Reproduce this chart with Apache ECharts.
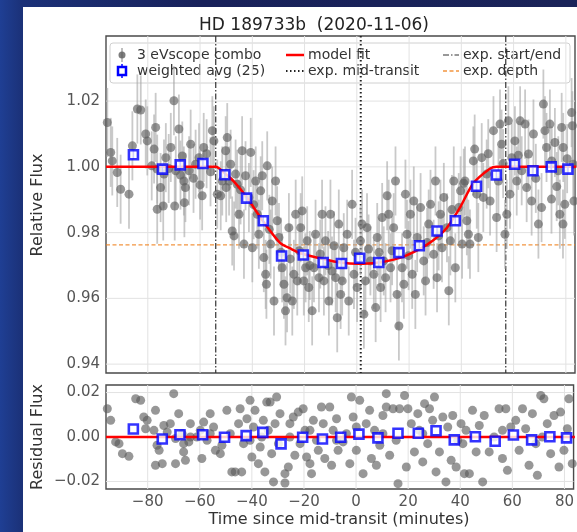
<!DOCTYPE html>
<html>
<head>
<meta charset="utf-8">
<script src="https://cdn.jsdelivr.net/npm/echarts@6.0.0/dist/echarts.min.js"></script>
<style>
    html, body { margin: 0; padding: 0; }
    body {
        width: 577px; height: 532px; overflow: hidden; position: relative;
        background: linear-gradient(90deg, #1f3f94 0px, #1b3178 22px, #18215a 200px, #1a2358 577px);
    }
    #panel { position: absolute; left: 23px; top: 7px; width: 554px; height: 525px; background: #fff; }
    #chart { position: absolute; left: 0; top: 0; width: 577px; height: 532px; }
</style>
</head>
<body>
<div id="panel"></div>
<div id="chart"></div>
<script>
    // tick labels
    var xTicks = [-80, -60, -40, -20, 0, 20, 40, 60, 80];
    var yTicksMain = [0.94, 0.96, 0.98, 1.00, 1.02];
    var yTicksRes = [-0.02, 0.00, 0.02];

    // exposure markers
    var expStartEnd = [-54, 57];
    var expMid = [1.5];
    var expDepth = [0.9763];

    // 3 eVscope combo (time in minutes, relative flux)
    var grayT = [
        -95.5, -94.2, -93.6, -91.7, -90.4, -87.2, -85.9, -84.0, -82.7, -80.8, -80.2, -77.6, -77.0, -76.4, -76.4, -75.1,
        -74.1, -73.8, -73.1, -71.2, -70.0, -69.7, -69.3, -68.1, -66.8, -66.2, -65.6, -66.0, -64.2, -63.6, -61.7, -60.4,
        -59.2, -58.6, -55.3, -54.7, -53.4, -52.1, -51.5, -78.5, -72.0, -67.5, -62.5, -57.5, -56.0, -60.0,
        -49.6, -50.2, -48.9, -50.0, -48.3, -46.4, -45.8, -47.7, -47.0, -45.1, -43.9, -43.2, -42.6, -41.3, -40.6, -40.0,
        -38.7, -38.1, -37.5, -36.8, -36.2, -35.6, -34.9, -34.3, -34.6, -33.0, -32.4, -31.7, -31.1, -30.5, -29.8, -28.6,
        -27.9, -27.3, -26.7, -26.0, -24.7, -24.1, -23.4, -22.8, -21.5, -20.9, -20.3, -19.6, -19.0, -18.4, -17.1, -16.4,
        -15.8, -14.5, -13.3, -12.6, -12.0, -10.7, -10.1, -9.5, -8.1, -7.5, -6.9, -5.6, -5.0, -6.2,
        -44.5, -39.5, -33.5, -29.0, -25.5, -22.0, -18.0, -14.0, -11.0, -8.7,
        -3.7, -3.1, -1.8, -1.1, 0.1, 1.4, 2.0, 2.7, 3.3, 3.9, 5.2, 6.5, 7.2, 7.8, 9.1, 9.7,
        10.3, 11.0, 11.6, 12.2, 12.9, 14.1, 14.8, 15.4, 16.1, 17.3, 18.0, 18.6, 19.2, 20.5, 21.2, 21.8,
        22.4, 23.1, 24.4, 25.6, 26.3, 27.5, 28.2, 29.4, 30.1, 30.7, 32.0, 32.6, 33.3, 34.5, 35.2, 35.8,
        37.1, 37.7, 39.0, 39.7, 40.3, 40.9, -0.5, 4.5, 8.5, 13.5, 19.8, 26.9, 31.3, 36.4,
        41.4, 42.1, 42.7, 43.3, 44.6, 45.1, 45.9, 46.5, 47.8, 48.4, 49.7, 51.0, 52.3, 53.5, 54.2, 54.8,
        55.4, 56.7, 57.4, 58.0, 58.6, 59.3, 60.5, 61.2, 62.5, 63.1, 64.4, 65.0, 65.7, 66.9, 67.6, 69.5,
        70.7, 71.4, 72.0, 72.6, 73.9, 74.5, 74.6, 75.8, 77.1, 77.7, 78.4, 78.9, 79.0, 79.6, 82.2, 82.5,
        82.8, 83.1, 50.3, 56.0, 61.8, 68.5, 76.5, 80.5
    ];
    var grayF = [
        1.0135, 1.0044, 1.0018, 0.9983, 0.9932, 0.9917, 1.0064, 1.0176, 1.0173, 1.0100, 1.0079, 1.0054, 1.0120, 0.9993, 0.9871, 0.9937,
        0.9881, 0.9978, 1.0028, 1.0059, 1.0201, 0.9881, 0.9988, 1.0115, 1.0033, 0.9957, 0.9937, 0.9891, 0.9988, 1.0069, 1.0008, 1.0028,
        0.9912, 1.0059, 1.0110, 1.0079, 0.9917, 0.9912, 0.9957, 1.0003, 0.9995, 0.9975, 0.9965, 1.0040, 0.9985, 0.9945,
        1.0089, 1.0049, 0.9957, 0.9937, 1.0008, 0.9978, 0.9947, 0.9805, 0.9790, 0.9856, 1.0049, 0.9765, 0.9973, 0.9907, 1.0044, 0.9754,
        0.9957, 0.9856, 0.9795, 0.9927, 0.9973, 0.9724, 0.9673, 1.0003, 0.9643, 0.9765, 0.9896, 0.9592, 0.9957, 0.9836, 0.9785, 0.9693,
        0.9643, 0.9562, 0.9602, 0.9815, 0.9592, 0.9673, 0.9856, 0.9653, 0.9815, 0.9866, 0.9653, 0.9693, 0.9775, 0.9633, 0.9562, 0.9693,
        0.9795, 0.9663, 0.9856, 0.9653, 0.9775, 0.9592, 0.9856, 0.9683, 0.9663, 0.9541, 0.9826, 0.9653, 0.9754, 0.9612,
        0.9930, 0.9885, 0.9810, 0.9740, 0.9720, 0.9745, 0.9700, 0.9735, 0.9700, 0.9760,
        0.9795, 0.9592, 0.9886, 0.9673, 0.9633, 0.9775, 0.9826, 0.9552, 0.9653, 0.9815, 0.9714, 0.9673, 0.9572, 0.9785, 0.9633, 0.9846,
        0.9714, 0.9663, 0.9912, 0.9856, 0.9693, 0.9815, 0.9957, 0.9612, 0.9516, 0.9693, 0.9643, 0.9917, 0.9795, 0.9856, 0.9673, 0.9896,
        0.9612, 0.9785, 0.9876, 0.9714, 0.9653, 0.9826, 0.9886, 0.9734, 0.9957, 0.9663, 0.9856, 0.9754, 0.9907, 0.9815, 0.9623, 0.9775,
        0.9957, 0.9693, 0.9876, 0.9927, 0.9765, 0.9950, 0.9740, 0.9750, 0.9740, 0.9745, 0.9730, 0.9770, 0.9790, 0.9870,
        0.9957, 0.9836, 0.9795, 0.9765, 1.0018, 1.0054, 0.9917, 0.9785, 1.0028, 0.9907, 0.9978, 0.9896, 1.0110, 0.9846, 0.9957, 1.0130,
        1.0069, 0.9795, 0.9856, 1.0140, 0.9917, 1.0028, 1.0079, 0.9957, 1.0140, 0.9988, 1.0130, 0.9937, 1.0039, 0.9896, 1.0100, 0.9826,
        0.9876, 1.0191, 1.0110, 1.0059, 1.0130, 0.9902, 1.0018, 1.0074, 0.9988, 0.9856, 1.0120, 0.9826, 1.0059, 0.9886, 1.0165, 1.0125,
        1.0008, 0.9896, 1.0040, 1.0010, 1.0035, 0.9965, 0.9940, 1.0025
    ];
    var grayErr = 0.0105;

    // residuals of the combo points
    var resT = [
        -95.5, -94.2, -92.3, -91.0, -89.7, -87.2, -84.6, -82.7, -81.5, -80.8, -80.2, -77.6, -77.0, -77.0, -76.4, -75.6,
        -74.4, -73.8, -72.5, -71.3, -70.0, -69.3, -69.3, -68.1, -66.8, -66.2, -66.2, -65.5, -64.2, -63.6, -61.1, -59.8,
        -59.2, -58.5, -57.2, -56.0, -54.7, -54.0, -52.1, -51.5, -49.6, -48.3, -47.7, -46.4, -45.1, -44.5, -43.9, -43.2,
        -41.9, -40.7, -40.0, -39.4, -38.8, -37.5, -36.8, -36.2, -35.6, -35.0, -34.3, -33.7, -33.0, -32.4, -31.7, -31.1,
        -30.5, -29.8, -29.2, -27.3, -27.3, -26.0, -25.4, -24.1, -23.5, -22.2, -21.5, -20.3, -19.6, -19.0, -17.7, -17.1,
        -16.4, -15.2, -14.5, -13.3, -12.6, -12.0, -10.1, -9.4, -8.8, -7.5, -6.9, -5.0, -3.7, -2.4, -1.8, -1.1,
        0.1, 1.4, 2.7, 3.9, 5.2, 5.9, 7.1, 7.8, 9.1, 10.3, 11.6, 11.6, 12.9, 14.2, 15.4, 16.1,
        16.7, 18.6, 19.3, 19.9, 21.2, 22.4, 23.7, 24.3, 25.6, 26.3, 27.5, 28.2, 29.4, 30.1, 30.7, 32.0,
        33.3, 34.5, 35.2, 36.5, 37.1, 38.4, 39.0, 40.3, 41.6, 42.2, 43.5, 44.7, 46.1, 47.3, 48.6, 49.2,
        51.1, 53.0, 54.9, 56.2, 57.5, 58.1, 59.4, 61.3, 62.6, 63.9, 65.1, 66.4, 67.7, 69.0, 69.6, 70.9,
        72.1, 73.4, 74.7, 76.0, 77.9, 78.5, 79.8, 81.1, 81.7, 83.0,
        -63.6, -56.0, -40.7, -25.4, -17.7, -7.5, 0.1, 10.3, 25.6, 41.0, 56.2, 71.5
    ];
    var resF = [
        0.0127, 0.0075, -0.0022, -0.0030, -0.0075, -0.0087, 0.0172, 0.0165, 0.0090, 0.0037, 0.0075, 0.0030, 0.0120, -0.0127, -0.0037, -0.0060,
        -0.0120, 0.0052, 0.0022, 0.0060, 0.0195, -0.0120, -0.0007, 0.0105, 0.0015, -0.0030, -0.0067, -0.0105, -0.0022, 0.0060, 0.0000, 0.0030,
        -0.0097, 0.0067, -0.0015, 0.0105, 0.0045, -0.0060, -0.0075, -0.0037, 0.0120, 0.0015, -0.0157, -0.0157, 0.0060, 0.0127, -0.0157, -0.0030,
        0.0082, 0.0165, -0.0090, 0.0045, 0.0120, -0.0120, -0.0045, 0.0000, 0.0075, -0.0157, 0.0157, 0.0030, 0.0157, -0.0075, -0.0202, 0.0060,
        0.0180, -0.0030, 0.0105, -0.0165, -0.0207, -0.0135, 0.0060, 0.0090, -0.0082, 0.0112, -0.0030, 0.0127, 0.0030, -0.0090, -0.0120, -0.0165,
        0.0075, -0.0015, -0.0060, 0.0135, 0.0060, -0.0097, 0.0135, -0.0127, 0.0030, 0.0082, -0.0060, -0.0022, 0.0015, -0.0120, 0.0180, 0.0090,
        -0.0060, 0.0165, -0.0165, 0.0060, 0.0120, -0.0097, 0.0030, -0.0127, -0.0037, 0.0097, 0.0195, 0.0135, -0.0082, 0.0127, -0.0015, -0.0210,
        0.0127, 0.0187, -0.0135, 0.0127, 0.0060, -0.0067, 0.0105, 0.0030, -0.0112, 0.0150, -0.0030, 0.0127, 0.0075, 0.0180, -0.0157, -0.0067,
        0.0090, -0.0202, 0.0045, -0.0105, 0.0097, -0.0135, -0.0015, 0.0060, -0.0165, 0.0030, -0.0165, 0.0120, -0.0067, 0.0052, -0.0202, 0.0097,
        -0.0067, 0.0000, 0.0127, -0.0097, 0.0127, -0.0150, 0.0045, 0.0075, -0.0060, 0.0127, 0.0037, -0.0127, 0.0105, -0.0030, -0.0172, 0.0187,
        0.0172, 0.0060, -0.0075, 0.0097, -0.0135, 0.0112, -0.0060, 0.0037, 0.0172, -0.0120,
        0.0000, 0.0015, -0.0015, 0.0000, 0.0030, -0.0015, 0.0045, 0.0015, 0.0015, -0.0030, 0.0030, 0.0000
    ];

    // weighted avg (25)
    var blueT = [-85.5, -74.4, -67.6, -58.9, -50.5, -42.2, -35.8, -28.8, -20.5, -12.9, -5.9, 1.1,
        8.4, 16.1, 23.9, 30.7, 37.7, 45.8, 53.4, 60.4, 67.4, 74.4, 80.8];
    var blueF = [1.0037, 0.9993, 1.0006, 1.0010, 0.9976, 0.9905, 0.9836, 0.9729, 0.9732, 0.9709, 0.9706, 0.9722,
        0.9709, 0.9739, 0.9760, 0.9805, 0.9836, 0.9941, 0.9975, 1.0008, 0.9988, 1.0000, 0.9993];
    var blueRes = [0.0036, -0.0009, 0.0010, 0.0010, -0.0001, 0.0006, 0.0021, -0.0031, -0.0001, -0.0009, -0.0001, 0.0013,
        -0.0004, 0.0017, 0.0017, 0.0028, -0.0013, 0.0001, -0.0019, 0.0009, -0.0013, 0.0001, -0.0004];
    var blueErr = 0.0013;

    // model fit
    var modelT = [-96, -60, -54, -50.5, -47, -42, -36, -29.4, -25, -21.8, -13, -5.4, 0, 7.6, 16.4, 24, 29, 34.4, 39.4, 44.4, 50.9, 53.5, 60, 84];
    var modelF = [1.0, 1.0, 1.0, 0.998, 0.9955, 0.9906, 0.9836, 0.9769, 0.975, 0.9738, 0.972, 0.9708, 0.9705, 0.9708, 0.9723, 0.975, 0.9775, 0.9814, 0.9875, 0.9948, 0.9994, 1.0, 1.0, 1.0];
    var zeroT = [-96, 84];
    var zeroF = [0, 0];

    var FONT = 'DejaVu Sans';
    var xMin = -96, xMax = 83.5;

    function zip(a, b, e) {
        return a.map(function (v, i) { return e === undefined ? [v, b[i]] : [v, b[i], e]; });
    }

    function errRender(color, width) {
        return function (params, api) {
            var t = api.value(0), f = api.value(1), e = api.value(2);
            var a = api.coord([t, f - e]), b = api.coord([t, f + e]);
            return {type: 'line', shape: {x1: a[0], y1: a[1], x2: b[0], y2: b[1]}, style: {stroke: color, lineWidth: width}};
        };
    }
    function vRender(style) {
        return function (params, api) {
            var cs = params.coordSys;
            var x = api.coord([api.value(0), api.value(1)])[0];
            return {type: 'line', shape: {x1: x, y1: cs.y, x2: x, y2: cs.y + cs.height}, style: style};
        };
    }
    function hRender(style) {
        return function (params, api) {
            var cs = params.coordSys;
            var y = api.coord([api.value(0), api.value(1)])[1];
            return {type: 'line', shape: {x1: cs.x, y1: y, x2: cs.x + cs.width, y2: y}, style: style};
        };
    }
    function minusFmt(d) {
        return function (v) { return (v < -1e-9 ? '\u2212' : '') + Math.abs(v).toFixed(d); };
    }

    var gridStyle = {stroke: '#e2e2e2', lineWidth: 1};
    var axisLbl = {fontFamily: FONT, fontSize: 15, color: '#555'};
    var dotColor = 'rgba(92,92,92,0.8)';

    var myChart = echarts.init(document.getElementById('chart'));
    var options = {
        animation: false,
        backgroundColor: 'transparent',
        grid: [
            {left: 106, top: 36, width: 469, height: 337, show: true, borderColor: '#4a4a4a', borderWidth: 1.4, backgroundColor: '#fff'},
            {left: 106, top: 385, width: 469, height: 104, show: true, borderColor: '#4a4a4a', borderWidth: 1.4, backgroundColor: '#fff'}
        ],
        xAxis: [
            {gridIndex: 0, type: 'value', min: xMin, max: xMax, axisLine: {show: false}, axisTick: {show: false},
                axisLabel: {show: false}, splitLine: {show: false}},
            {gridIndex: 1, type: 'value', min: xMin, max: xMax, axisLine: {show: false}, axisTick: {show: false},
                axisLabel: Object.assign({customValues: xTicks, margin: 6, formatter: minusFmt(0)}, axisLbl),
                splitLine: {show: false}}
        ],
        yAxis: [
            {gridIndex: 0, type: 'value', min: 0.9373, max: 1.0398, axisLine: {show: false}, axisTick: {show: false},
                axisLabel: Object.assign({customValues: yTicksMain, margin: 6, formatter: function (v) { return v.toFixed(2); }}, axisLbl),
                splitLine: {show: false}},
            {gridIndex: 1, type: 'value', min: -0.0234, max: 0.0234, axisLine: {show: false}, axisTick: {show: false},
                axisLabel: Object.assign({customValues: yTicksRes, margin: 6, formatter: minusFmt(2)}, axisLbl),
                splitLine: {show: false}}
        ],
        series: [
            // grid lines
            {type: 'custom', xAxisIndex: 0, yAxisIndex: 0, silent: true, z: 1, renderItem: vRender(gridStyle),
                data: xTicks.map(function (v) { return [v, 1]; })},
            {type: 'custom', xAxisIndex: 0, yAxisIndex: 0, silent: true, z: 1, renderItem: hRender(gridStyle),
                data: yTicksMain.map(function (v) { return [0, v]; })},
            {type: 'custom', xAxisIndex: 1, yAxisIndex: 1, silent: true, z: 1, renderItem: vRender(gridStyle),
                data: xTicks.map(function (v) { return [v, 0]; })},
            {type: 'custom', xAxisIndex: 1, yAxisIndex: 1, silent: true, z: 1, renderItem: hRender(gridStyle),
                data: yTicksRes.map(function (v) { return [0, v]; })},
            // exp. markers
            {type: 'custom', xAxisIndex: 0, yAxisIndex: 0, silent: true, z: 2,
                renderItem: hRender({stroke: 'rgba(240,130,30,0.85)', lineWidth: 1.3, lineDash: [4, 2.5]}),
                data: expDepth.map(function (v) { return [0, v]; })},
            {type: 'custom', xAxisIndex: 0, yAxisIndex: 0, silent: true, z: 2,
                renderItem: vRender({stroke: '#333', lineWidth: 1.2, lineDash: [6, 2, 1.5, 2]}),
                data: expStartEnd.map(function (v) { return [v, 1]; })},
            {type: 'custom', xAxisIndex: 0, yAxisIndex: 0, silent: true, z: 2,
                renderItem: vRender({stroke: '#222', lineWidth: 2, lineDash: [1.5, 2.5]}),
                data: expMid.map(function (v) { return [v, 1]; })},
            // combo points
            {type: 'custom', xAxisIndex: 0, yAxisIndex: 0, silent: true, z: 3, clip: true,
                renderItem: errRender('rgba(165,165,165,0.6)', 1.8), data: zip(grayT, grayF, grayErr)},
            {type: 'scatter', xAxisIndex: 0, yAxisIndex: 0, z: 4, symbolSize: 9, clip: true,
                itemStyle: {color: dotColor}, data: zip(grayT, grayF)},
            {type: 'scatter', xAxisIndex: 1, yAxisIndex: 1, z: 4, symbolSize: 9, clip: true,
                itemStyle: {color: dotColor}, data: zip(resT, resF)},
            // model
            {type: 'line', xAxisIndex: 0, yAxisIndex: 0, z: 5, smooth: 0.25, showSymbol: false, clip: true,
                lineStyle: {color: '#ff0000', width: 2.5}, data: zip(modelT, modelF)},
            {type: 'line', xAxisIndex: 1, yAxisIndex: 1, z: 5, showSymbol: false, clip: true,
                lineStyle: {color: '#ff0000', width: 2.5}, data: zip(zeroT, zeroF)},
            // weighted avg
            {type: 'custom', xAxisIndex: 0, yAxisIndex: 0, silent: true, z: 6,
                renderItem: errRender('#0000ff', 1.5), data: zip(blueT, blueF, blueErr)},
            {type: 'scatter', xAxisIndex: 0, yAxisIndex: 0, z: 7, symbol: 'rect', symbolSize: 9,
                itemStyle: {color: '#fff', borderColor: '#0000ff', borderWidth: 2.6}, data: zip(blueT, blueF)},
            {type: 'scatter', xAxisIndex: 1, yAxisIndex: 1, z: 7, symbol: 'rect', symbolSize: 9,
                itemStyle: {color: '#fff', borderColor: '#0000ff', borderWidth: 2.6}, data: zip(blueT, blueRes)}
        ],
        graphic: [
            {type: 'text', x: 314, y: 26, z: 100, style: {text: 'HD 189733b  (2020-11-06)', font: '17px ' + FONT, fill: '#222', textAlign: 'center', textVerticalAlign: 'middle'}},
            {type: 'text', x: 38, y: 205, rotation: Math.PI / 2, z: 100, style: {text: 'Relative Flux', font: '16px ' + FONT, fill: '#333', textAlign: 'center', textVerticalAlign: 'middle'}},
            {type: 'text', x: 38, y: 437, rotation: Math.PI / 2, z: 100, style: {text: 'Residual Flux', font: '16px ' + FONT, fill: '#333', textAlign: 'center', textVerticalAlign: 'middle'}},
            {type: 'text', x: 339, y: 520, z: 100, style: {text: 'Time since mid-transit (minutes)', font: '16px ' + FONT, fill: '#333', textAlign: 'center', textVerticalAlign: 'middle'}},
            // legend
            {type: 'group', z: 100, children: [
                {type: 'rect', shape: {x: 110, y: 43, width: 460, height: 40, r: 3}, style: {fill: 'rgba(255,255,255,0.85)', stroke: '#d0d0d0', lineWidth: 1}},
                {type: 'line', shape: {x1: 122, y1: 48, x2: 122, y2: 62}, style: {stroke: 'rgba(165,165,165,0.8)', lineWidth: 1.8}},
                {type: 'circle', shape: {cx: 122, cy: 55, r: 3.5}, style: {fill: dotColor}},
                {type: 'line', shape: {x1: 122, y1: 64, x2: 122, y2: 78}, style: {stroke: '#0000ff', lineWidth: 1.5}},
                {type: 'rect', shape: {x: 118, y: 67, width: 8, height: 8}, style: {fill: '#fff', stroke: '#0000ff', lineWidth: 2.5}},
                {type: 'text', x: 137, y: 55, style: {text: '3 eVscope combo', font: '14px ' + FONT, fill: '#333', textVerticalAlign: 'middle'}},
                {type: 'text', x: 137, y: 71, style: {text: 'weighted avg (25)', font: '14px ' + FONT, fill: '#333', textVerticalAlign: 'middle'}},
                {type: 'line', shape: {x1: 286, y1: 55, x2: 304, y2: 55}, style: {stroke: '#ff0000', lineWidth: 2.5}},
                {type: 'line', shape: {x1: 286, y1: 71, x2: 304, y2: 71}, style: {stroke: '#222', lineWidth: 2, lineDash: [1.5, 2.5]}},
                {type: 'text', x: 308, y: 55, style: {text: 'model fit', font: '14px ' + FONT, fill: '#333', textVerticalAlign: 'middle'}},
                {type: 'text', x: 308, y: 71, style: {text: 'exp. mid-transit', font: '14px ' + FONT, fill: '#333', textVerticalAlign: 'middle'}},
                {type: 'line', shape: {x1: 443, y1: 55, x2: 459, y2: 55}, style: {stroke: '#333', lineWidth: 1.2, lineDash: [6, 2, 1.5, 2]}},
                {type: 'line', shape: {x1: 443, y1: 71, x2: 459, y2: 71}, style: {stroke: 'rgba(240,130,30,0.85)', lineWidth: 1.3, lineDash: [4, 2.5]}},
                {type: 'text', x: 463, y: 55, style: {text: 'exp. start/end', font: '14px ' + FONT, fill: '#333', textVerticalAlign: 'middle'}},
                {type: 'text', x: 463, y: 71, style: {text: 'exp. depth', font: '14px ' + FONT, fill: '#333', textVerticalAlign: 'middle'}}
            ]}
        ]
    };
    myChart.setOption(options);
</script>
</body>
</html>
